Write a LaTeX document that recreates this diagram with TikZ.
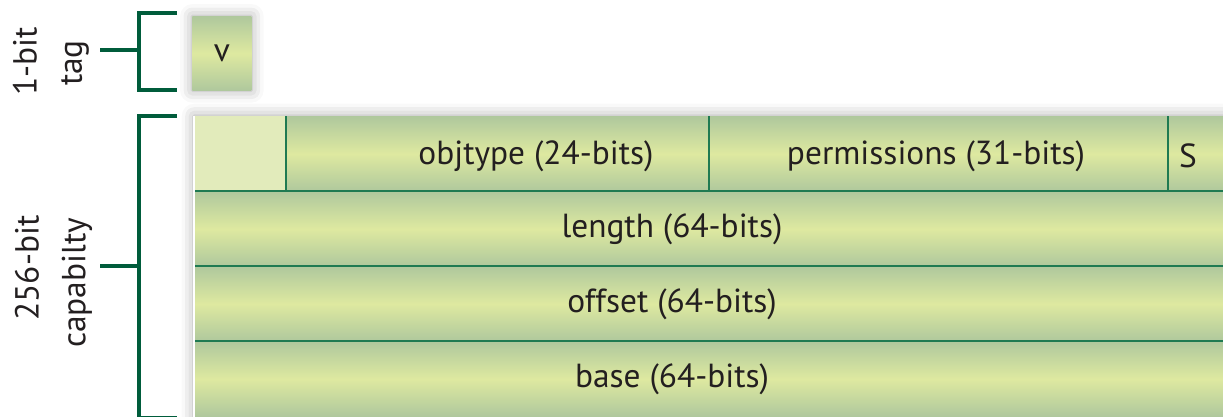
\documentclass[tikz,border=0pt]{standalone}
\usepackage{fontspec}
\setmainfont{PT Sans}
\usetikzlibrary{positioning,shadows.blur}

\definecolor{bandedge}{HTML}{AFC89D}
\definecolor{bandmid}{HTML}{DEE9A0}
\definecolor{bandflat}{HTML}{E2EBBB}
\definecolor{brgreen}{HTML}{005C3B}
\definecolor{sepgreen}{HTML}{1F7A52}
\definecolor{ink}{HTML}{231F20}

\tikzset{
  cell/.style={inner sep=0pt, anchor=north west},
  band/.style={cell, shading=axis, top color=bandedge, bottom color=bandedge,
    middle color=bandmid},
  field/.style={font=\fontsize{19}{22}\selectfont, text=ink, inner sep=0pt},
  brk/.style={draw=brgreen, line width=2.6pt},
  sep/.style={draw=sepgreen, line width=0.6pt},
  soft/.style={blur shadow={shadow xshift=0pt, shadow yshift=0pt,
    shadow blur radius=7pt, shadow opacity=35}}
}

\begin{document}
\begin{tikzpicture}[x=0.02cm, y=-0.02cm]

		\useasboundingbox (0,0) rectangle (1223,416);
		\clip (0,0) rectangle (1223,416);

		% shadows behind the boxes
		\fill[white, soft] (194,116) rectangle (1260,460);

		% tag
		\node[band, soft, minimum width=1.18cm, minimum height=1.48cm] (tag) at (192,16) {};
		\node[field] (v) at (tag.center) {v};

		% first word of the capability
		\node[cell, fill=bandflat, minimum width=1.84cm, minimum height=1.5cm] (blank) at (194,116) {};
		\node[band, minimum width=8.46cm, minimum height=1.5cm] (obj) at (286,116) {};
		\node[band, minimum width=9.18cm, minimum height=1.5cm] (perm) at (709,116) {};
		\node[band, minimum width=1.8cm, minimum height=1.5cm] (sbit) at (1168,116) {};
		\node[field] (obj-l) at (536,156) {objtype (24-bits)};
		\node[field] (perm-l) at (936,156) {permissions (31-bits)};
		\node[field] (sbit-l) at (1188,156) {S};

		% the 64-bit words
		\foreach \nm/\y/\txt in {len/191/length (64-bits), off/266/offset (64-bits), base/341/base (64-bits)}
		{
			\node[band, minimum width=21.2cm, minimum height=1.5cm] (\nm) at (194,\y) {};
			\node[field] (\nm-l) at (672,\y+38) {\txt};
		}

		\draw[sep] (obj.north west) -- (obj.south west);
		\draw[sep] (perm.north west) -- (perm.south west);
		\draw[sep] (sbit.north west) -- (sbit.south west);
		\foreach \nm in {len,off,base}
			\draw[sep] (\nm.north west) -- (\nm.north east);
		\draw[white, line width=0.8pt] (blank.north west) -- (base.south west);

		% brackets
		\coordinate (tagtop) at (177,13);
		\coordinate (tagbot) at (177,90);
		\coordinate (tagmid) at (139,50);
		\coordinate (captop) at (177,116);
		\coordinate (capbot) at (177,418);
		\coordinate (capmid) at (139,266);
		\draw[brk] (tagtop) -| (tagmid) |- (tagbot);
		\draw[brk] (captop) -| (capmid) |- (capbot);

		\node[field, rotate=90] (tag-a) at (25,61) {1-bit};
		\node[field, rotate=90] (tag-b) at (75,63) {tag};
		\node[field, rotate=90] (cap-a) at (27,268) {256-bit};
		\node[field, rotate=90] (cap-b) at (77,283) {capabilty};
		\coordinate (tagstem) at (100,50);
		\coordinate (capstem) at (100,266);
		\draw[brk] (tagstem) -- (tagmid);
		\draw[brk] (capstem) -- (capmid);

	\end{tikzpicture}
\end{document}
